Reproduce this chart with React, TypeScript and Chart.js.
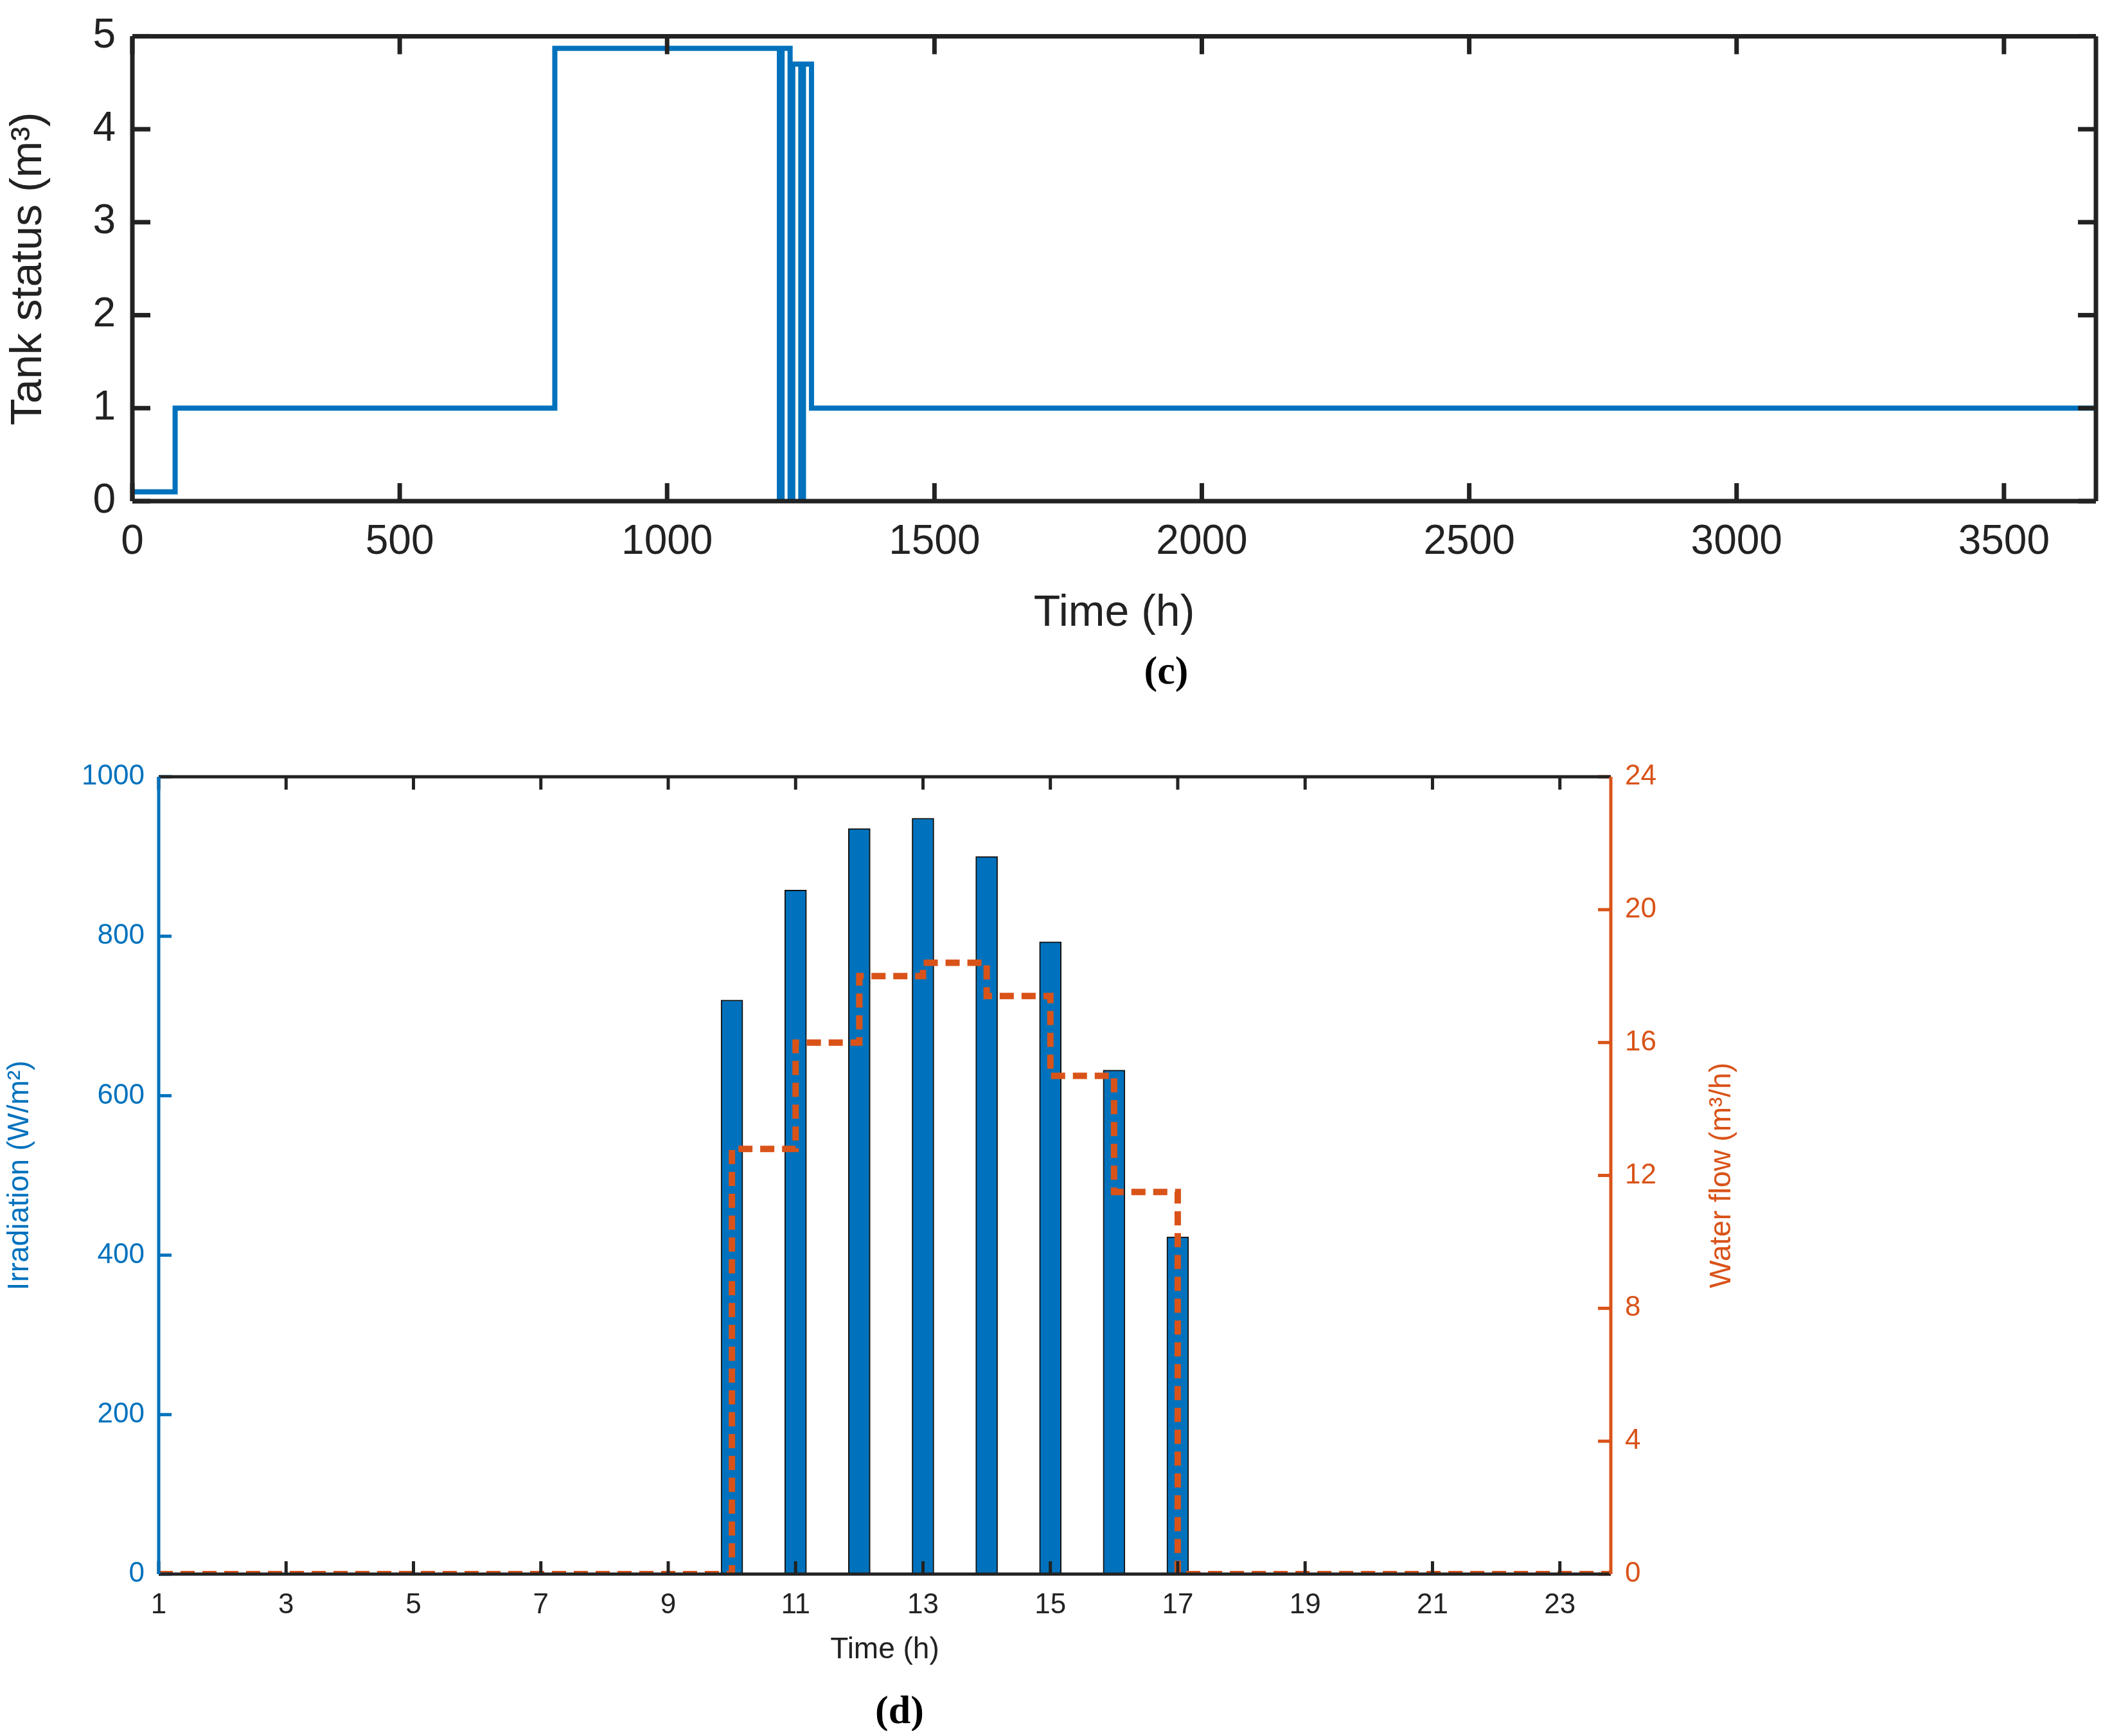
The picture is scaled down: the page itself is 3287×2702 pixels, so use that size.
import React, { useEffect, useRef } from "react";
import { Chart, registerables } from "chart.js";
Chart.register(...registerables);

const tankX = [0, 80, 80, 790, 790, 1210, 1210, 1215, 1215, 1230, 1230, 1235, 1235, 1250, 1250, 1255, 1255, 1270, 1270, 3672];
const tankY = [0.1, 0.1, 1, 1, 4.87, 4.87, 0, 0, 4.87, 4.87, 0, 0, 4.7, 4.7, 0, 0, 4.7, 4.7, 1, 1];
const tankTicksX = [0, 500, 1000, 1500, 2000, 2500, 3000, 3500];
const hours = [10, 11, 12, 13, 14, 15, 16, 17];
const irradiation = [720, 858, 935, 948, 900, 793, 632, 423];
const flowStepStart = [1, 10, 11, 12, 13, 14, 15, 16, 17];
const flowStepEnd = [10, 11, 12, 13, 14, 15, 16, 17, 23.8];
const flowValues = [0, 12.8, 16, 18, 18.4, 17.4, 15, 11.5, 0];
const hourTicks = [1, 3, 5, 7, 9, 11, 13, 15, 17, 19, 21, 23];

const FONT = "'Liberation Sans', Arial, sans-serif";
const BLUE = "#0072BD";
const ORANGE = "#D95319";

const flowPoints: { x: number; y: number }[] = [];
flowValues.forEach((v, i) => { flowPoints.push({ x: flowStepStart[i], y: v }); flowPoints.push({ x: flowStepEnd[i], y: v }); });

function boxPlugin(cfg: { lw: number; tick: number; colors: { top: string; bottom: string; left: string; right: string }; rightScale?: string; rightTitle?: { text: string; x: number; size: number; color: string } }) {
  return {
    id: "box",
    afterDraw(chart: any) {
      const { ctx, chartArea: a, scales } = chart;
      ctx.save();
      ctx.lineWidth = cfg.lw;
      const line = (c: string, x1: number, y1: number, x2: number, y2: number) => {
        ctx.strokeStyle = c; ctx.beginPath(); ctx.moveTo(x1, y1); ctx.lineTo(x2, y2); ctx.stroke();
      };
      const xs = scales.x, ys = scales.y;
      xs.ticks.forEach((t: any) => {
        const p = xs.getPixelForValue(t.value);
        line(cfg.colors.bottom, p, a.bottom, p, a.bottom - cfg.tick);
        line(cfg.colors.top, p, a.top, p, a.top + cfg.tick);
      });
      ys.ticks.forEach((t: any) => {
        const p = ys.getPixelForValue(t.value);
        line(cfg.colors.left, a.left, p, a.left + cfg.tick, p);
        if (!cfg.rightScale) line(cfg.colors.right, a.right, p, a.right - cfg.tick, p);
      });
      if (cfg.rightScale) {
        const r = scales[cfg.rightScale];
        r.ticks.forEach((t: any) => {
          const p = r.getPixelForValue(t.value);
          line(cfg.colors.right, a.right, p, a.right - cfg.tick, p);
        });
      }
      line(cfg.colors.top, a.left, a.top, a.right, a.top);
      line(cfg.colors.bottom, a.left, a.bottom, a.right, a.bottom);
      line(cfg.colors.left, a.left, a.top, a.left, a.bottom);
      line(cfg.colors.right, a.right, a.top, a.right, a.bottom);
      if (cfg.rightTitle) {
        const t = cfg.rightTitle;
        ctx.translate(t.x, (a.top + a.bottom) / 2);
        ctx.rotate(-Math.PI / 2);
        ctx.fillStyle = t.color;
        ctx.font = `${t.size}px ${FONT}`;
        ctx.textAlign = "center";
        ctx.textBaseline = "middle";
        ctx.fillText(t.text, 0, 0);
      }
      ctx.restore();
    },
  };
}

export default function App() {
  const c1 = useRef<HTMLCanvasElement>(null);
  const c2 = useRef<HTMLCanvasElement>(null);
  useEffect(() => {
    const ch1 = new Chart(c1.current!, {
      type: "line",
      data: { datasets: [{ data: tankX.map((x, i) => ({ x, y: tankY[i] })), borderColor: BLUE, borderWidth: 8, pointRadius: 0, tension: 0 }] },
      options: {
        animation: false, responsive: false,
        layout: { padding: { top: 28, right: 25, left: 0, bottom: 0 } },
        plugins: { legend: { display: false }, tooltip: { enabled: false } },
        scales: {
          x: {
            type: "linear", min: 0, max: 3672,
            afterBuildTicks: (s: any) => { s.ticks = tankTicksX.map((v) => ({ value: v })); },
            ticks: { color: "#222", font: { family: FONT, size: 64 }, padding: 18, maxRotation: 0, callback: (v: any) => String(v) },
            grid: { display: false }, border: { display: false },
            title: { display: true, text: "Time (h)", color: "#222", font: { family: FONT, size: 68 }, padding: { top: 0 } },
            afterFit: (s: any) => { s.height = 220; },
          },
          y: {
            min: 0, max: 5,
            ticks: { stepSize: 1, color: "#222", font: { family: FONT, size: 64 }, padding: 18 },
            grid: { display: false }, border: { display: false },
            title: { display: true, text: "Tank status (m³)", color: "#222", font: { family: FONT, size: 68 }, padding: { bottom: 0 } },
            afterFit: (s: any) => { s.width = 206; },
          },
        },
      },
      plugins: [boxPlugin({ lw: 7, tick: 28, colors: { top: "#222", bottom: "#222", left: "#222", right: "#222" } })],
    } as any);
    const ch2 = new Chart(c2.current!, {
      type: "bar",
      data: {
        datasets: [
          { type: "line", data: flowPoints, yAxisID: "y2", borderColor: ORANGE, borderWidth: 10, borderDash: [22, 12], pointRadius: 0, tension: 0, order: 0 },
          { type: "bar", data: hours.map((x, i) => ({ x, y: irradiation[i] })), yAxisID: "y", backgroundColor: BLUE, borderColor: "#111", borderWidth: 2, barThickness: 34, order: 1 },
        ],
      },
      options: {
        animation: false, responsive: false,
        layout: { padding: { top: 109, right: 580, left: 0, bottom: 0 } },
        plugins: { legend: { display: false }, tooltip: { enabled: false } },
        scales: {
          x: {
            type: "linear", min: 1, max: 23.8, offset: false,
            afterBuildTicks: (s: any) => { s.ticks = hourTicks.map((v) => ({ value: v })); },
            ticks: { color: "#222", font: { family: FONT, size: 44 }, padding: 14, maxRotation: 0 },
            grid: { display: false }, border: { display: false },
            title: { display: true, text: "Time (h)", color: "#222", font: { family: FONT, size: 46 }, padding: { top: 0 } },
            afterFit: (s: any) => { s.height = 150; },
          },
          y: {
            position: "left", min: 0, max: 1000,
            ticks: { stepSize: 200, color: BLUE, font: { family: FONT, size: 44 }, padding: 14, callback: (v: any) => String(v) },
            grid: { display: false }, border: { display: false },
            title: { display: true, text: "Irradiation (W/m²)", color: BLUE, font: { family: FONT, size: 46 }, padding: { bottom: 14 } },
            afterFit: (s: any) => { s.width = 247; },
          },
          y2: {
            position: "right", min: 0, max: 24,
            ticks: { stepSize: 4, color: ORANGE, font: { family: FONT, size: 44 }, padding: 14 },
            grid: { display: false }, border: { display: false },
            afterFit: (s: any) => { s.width = 200; },
          },
        },
      },
      plugins: [boxPlugin({ lw: 5, tick: 20, colors: { top: "#222", bottom: "#222", left: BLUE, right: ORANGE }, rightScale: "y2", rightTitle: { text: "Water flow (m³/h)", x: 2680, size: 46, color: ORANGE } })],
    } as any);
    return () => { ch1.destroy(); ch2.destroy(); };
  }, []);
  const cap: React.CSSProperties = { position: "absolute", fontFamily: "'Liberation Serif', serif", fontWeight: "bold", fontSize: 62, transform: "translate(-50%,-50%)" };
  return (
    <div style={{ position: "relative", width: 3287, height: 2702, background: "#fff", margin: -8 }}>
      <canvas ref={c1} width={3287} height={1000} style={{ position: "absolute", left: 0, top: 0 }} />
      <div style={{ ...cap, left: 1815, top: 1043 }}>(c)</div>
      <canvas ref={c2} width={3287} height={1500} style={{ position: "absolute", left: 0, top: 1100 }} />
      <div style={{ ...cap, left: 1400, top: 2661 }}>(d)</div>
    </div>
  );
}
